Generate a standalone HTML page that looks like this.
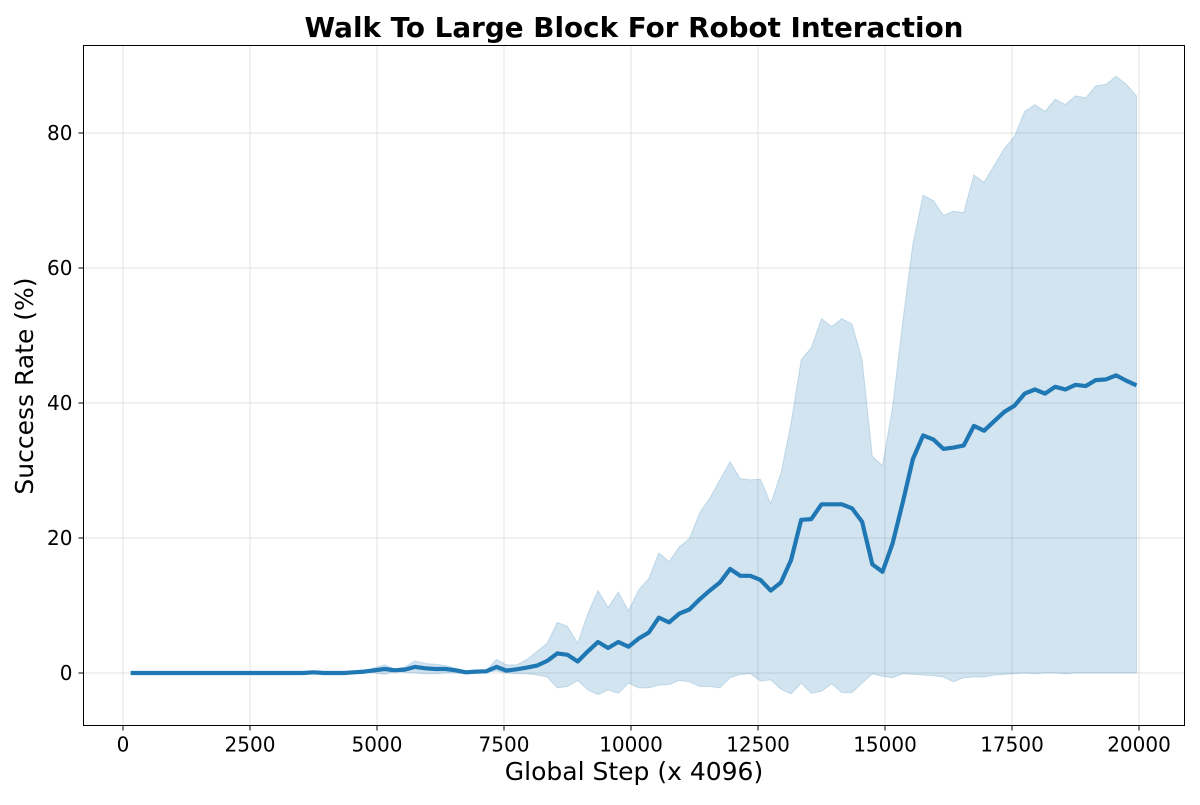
<!DOCTYPE html>
<html><head><meta charset="utf-8">
<style>
html,body{margin:0;padding:0;background:#fff;}
svg text{font-family:"DejaVu Sans","Liberation Sans",sans-serif;fill:#000;}
</style></head>
<body>
<svg id="chart" width="1200" height="800" viewBox="0 0 1200 800" xmlns="http://www.w3.org/2000/svg">
<rect x="0" y="0" width="1200" height="800" fill="#fff"/>
<text x="634" y="37" text-anchor="middle" font-size="27.8" font-weight="bold">Walk To Large Block For Robot Interaction</text>
<g id="grid"></g>
<g id="band"></g>
<g id="line"></g>
<rect x="83.5" y="45.5" width="1101" height="680" fill="none" stroke="#000" stroke-width="1"/>
<g id="xticks"></g>
<g id="yticks"></g>
<text x="634" y="780" text-anchor="middle" font-size="25">Global Step (x 4096)</text>
<text transform="translate(33,386) rotate(-90)" text-anchor="middle" font-size="25">Success Rate (%)</text>
</svg>
<script>
const xTicks = [0, 2500, 5000, 7500, 10000, 12500, 15000, 17500, 20000];
const yTicks = [0, 20, 40, 60, 80];
const steps = [150,350,550,750,950,1150,1350,1550,1750,1950,2150,2350,2550,2750,2950,3150,3350,3550,3750,3950,4150,4350,4550,4750,4950,5150,5350,5550,5750,5950,6150,6350,6550,6750,6950,7150,7350,7550,7750,7950,8150,8350,8550,8750,8950,9150,9350,9550,9750,9950,10150,10350,10550,10750,10950,11150,11350,11550,11750,11950,12150,12350,12550,12750,12950,13150,13350,13550,13750,13950,14150,14350,14550,14750,14950,15150,15350,15550,15750,15950,16150,16350,16550,16750,16950,17150,17350,17550,17750,17950,18150,18350,18550,18750,18950,19150,19350,19550,19750,19950];
const meanVals = [0,0,0,0,0,0,0,0,0,0,0,0,0,0,0,0,0,0,0.1,0,0,0,0.1,0.2,0.4,0.6,0.4,0.5,0.9,0.7,0.6,0.6,0.4,0.1,0.2,0.25,0.9,0.35,0.55,0.8,1.1,1.8,2.9,2.7,1.7,3.2,4.6,3.7,4.6,3.9,5.1,6.0,8.2,7.5,8.8,9.4,10.9,12.2,13.4,15.4,14.4,14.4,13.8,12.2,13.4,16.7,22.7,22.8,25.0,25.0,25.0,24.4,22.4,16.1,15.0,19.2,25.3,31.7,35.2,34.6,33.2,33.4,33.7,36.6,35.9,37.3,38.7,39.6,41.4,42.0,41.4,42.4,42.0,42.7,42.5,43.4,43.5,44.1,43.3,42.6];
const upperVals = [0,0,0,0,0,0,0,0,0,0,0,0,0,0,0,0,0,0,0.2,0,0,0,0.2,0.3,0.8,1.2,0.6,0.9,1.8,1.4,1.3,1.1,0.7,0.3,0.4,0.4,2.0,1.2,1.2,2.0,3.2,4.4,7.5,6.9,4.4,8.8,12.2,9.7,12.0,9.2,12.3,14.0,17.8,16.5,18.7,19.9,23.7,25.9,28.6,31.3,28.8,28.6,28.7,25.1,29.6,37.0,46.4,48.2,52.5,51.3,52.5,51.7,46.4,32.1,30.7,39.4,52.1,63.6,70.8,70.0,67.8,68.4,68.2,73.8,72.7,75.2,77.7,79.5,83.2,84.2,83.2,85.0,84.2,85.5,85.2,87.0,87.2,88.4,87.2,85.5];
const lowerVals = [0,0,0,0,0,0,0,0,0,0,0,0,0,0,0,0,0,0,0,0,0,0,0,0.1,0,-0.2,0.2,0.1,0,-0.1,-0.1,0,0,-0.1,0,0.1,0.3,0,-0.1,-0.1,-0.3,-0.6,-2.2,-2.0,-1.1,-2.5,-3.2,-2.5,-3.0,-1.5,-2.2,-2.2,-1.8,-1.7,-1.1,-1.3,-2.0,-2.0,-2.2,-0.7,-0.2,-0.1,-1.2,-1.0,-2.4,-3.1,-1.5,-3.0,-2.7,-1.6,-2.9,-2.9,-1.5,-0.1,-0.5,-0.7,-0.1,-0.2,-0.3,-0.4,-0.6,-1.3,-0.7,-0.6,-0.6,-0.3,-0.2,-0.1,0,-0.1,0,0,-0.1,0,0,0,0,0,0,0];

const NS = 'http://www.w3.org/2000/svg';
const L = 83.5, R = 1184.5, T = 45.5, B = 725.5;
function xs(v){ return 123 + (v - 0) * (1139 - 123) / 20000; }
function ys(v){ return 673 - v * (673 - 133) / 80; }
function mk(tag, attrs, parent){ const e = document.createElementNS(NS, tag); for (const k in attrs) e.setAttribute(k, attrs[k]); parent.appendChild(e); return e; }

const grid = document.getElementById('grid');
const xg = document.getElementById('xticks');
const yg = document.getElementById('yticks');
xTicks.forEach(t => {
  const x = xs(t);
  const gl = mk('line', {x1:x, x2:x, y1:T, y2:B, stroke:'#b0b0b0', 'stroke-opacity':0.35, 'stroke-width':1}, grid);
  
  
  const tk = mk('line', {x1:x, x2:x, y1:B, y2:B+5, stroke:'#000', 'stroke-width':1}, xg);
  
  
  const lb = mk('text', {x:x, y:B+26, 'text-anchor':'middle', 'font-size':20}, xg);
  lb.textContent = String(t);
  
  
});
yTicks.forEach(t => {
  const y = ys(t);
  const gl = mk('line', {x1:L, x2:R, y1:y, y2:y, stroke:'#b0b0b0', 'stroke-opacity':0.35, 'stroke-width':1}, grid);
  
  
  const tk = mk('line', {x1:L-5, x2:L, y1:y, y2:y, stroke:'#000', 'stroke-width':1}, yg);
  
  
  const lb = mk('text', {x:L-11, y:y+7, 'text-anchor':'end', 'font-size':20}, yg);
  lb.textContent = String(t);
  
  
});

let d = '';
steps.forEach((s, i) => { d += (i ? 'L' : 'M') + xs(s).toFixed(1) + ',' + ys(upperVals[i]).toFixed(1); });
for (let i = steps.length - 1; i >= 0; i--) d += 'L' + xs(steps[i]).toFixed(1) + ',' + ys(lowerVals[i]).toFixed(1);
d += 'Z';
const band = mk('path', {d:d, fill:'#1f77b4', 'fill-opacity':0.2, stroke:'#1f77b4', 'stroke-opacity':0.2, 'stroke-width':1}, document.getElementById('band'));



let m = '';
steps.forEach((s, i) => { m += (i ? 'L' : 'M') + xs(s).toFixed(1) + ',' + ys(meanVals[i]).toFixed(1); });
const ml = mk('path', {d:m, fill:'none', stroke:'#1f77b4', 'stroke-width':4.2, 'stroke-linejoin':'round'}, document.getElementById('line'));


</script>
</body></html>
